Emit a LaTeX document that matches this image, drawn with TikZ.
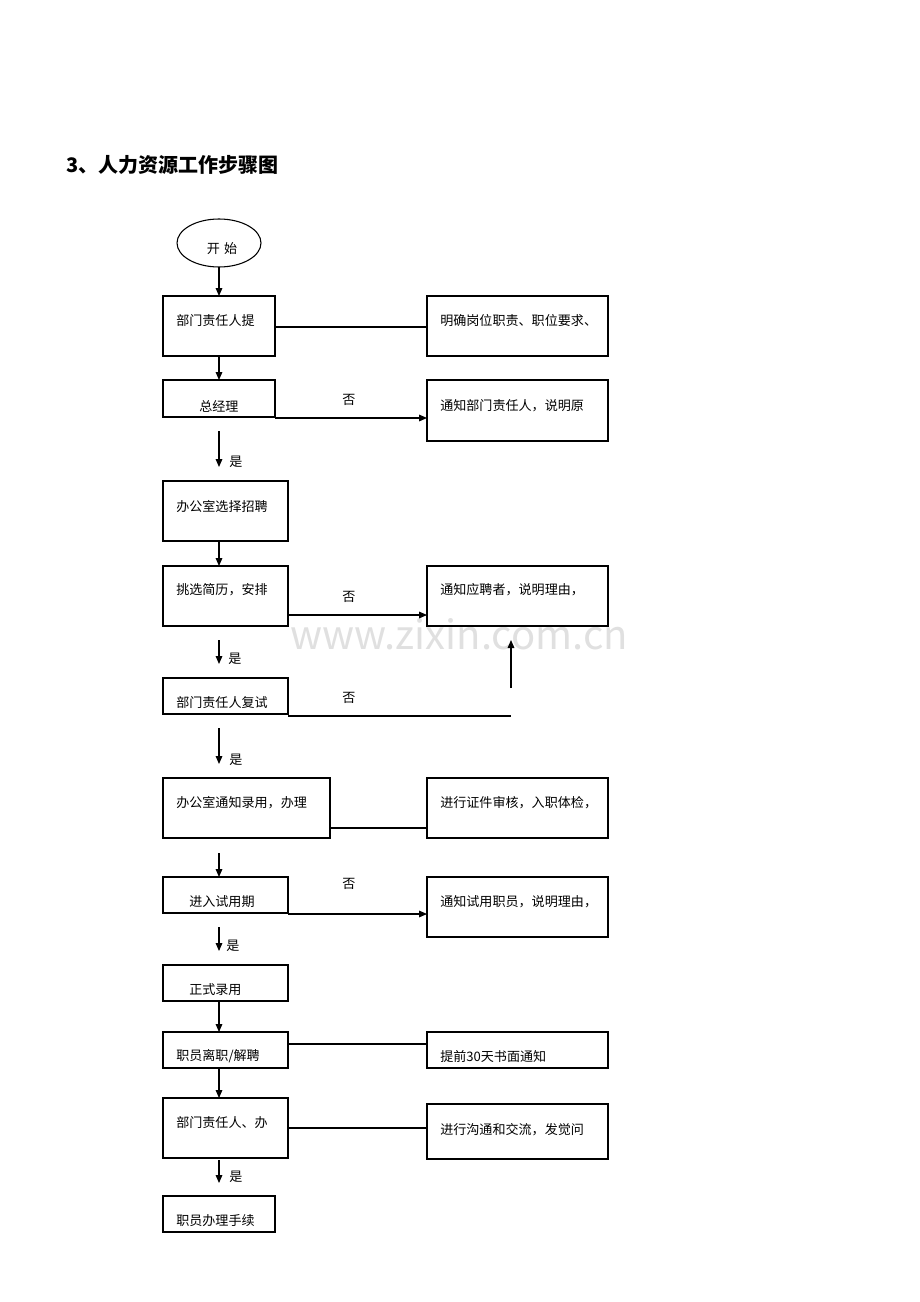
\documentclass[tikz,border=0pt]{standalone}
\usepackage{fontspec}
\setmainfont{Liberation Serif}
\newfontfamily\cjk{Noto Sans CJK SC}
\usetikzlibrary{arrows.meta}
\begin{document}
\begin{tikzpicture}[x=0.75pt,y=-0.75pt,
  bx/.style={draw,line width=0.8pt},
  tx/.style={anchor=west,font=\cjk\fontsize{9.8}{11}\selectfont,inner sep=0pt},
  lb/.style={font=\cjk\fontsize{9.8}{11}\selectfont,inner sep=0pt},
  ar/.style={line width=0.8pt,-{Triangle[length=6pt,width=5pt]}},
  ln/.style={line width=0.8pt}]
\useasboundingbox (0,0) rectangle (920,1302);
\node[font=\cjk\fontsize{30}{30}\selectfont,text=black!12,inner sep=0pt] (wm) at (459,634) {www.zixin.com.cn};
\node[anchor=west,inner sep=0pt,font=\cjk\bfseries\fontsize{15}{16}\selectfont] (title) at (66,165) {3、人力资源工作步骤图};
% left column
\draw[bx] (219,243) ellipse (42 and 24);
\node[lb] (s) at (222,249) {开\,\,始};
\coordinate (sb) at (219,267);
\draw[bx] (163,296) rectangle (275,356); \coordinate (b1t) at (219,296); \coordinate (b1b) at (219,356); \coordinate (b1r) at (275,327);
\node[tx] (t1) at (176,321) {部门责任人提};
\draw[bx] (163,380) rectangle (275,417); \coordinate (b2t) at (219,380); \coordinate (b2r) at (275,418);
\node[tx] (t2) at (199,406) {总经理};
\draw[bx] (163,481) rectangle (288,541); \coordinate (b4b) at (219,541);
\node[tx] (t4) at (176,506) {办公室选择招聘};
\draw[bx] (163,566) rectangle (288,626); \coordinate (b5t) at (219,566); \coordinate (b5r) at (288,615);
\node[tx] (t5) at (176,590) {挑选简历，安排};
\draw[bx] (163,678) rectangle (288,714); \coordinate (b6r) at (288,716);
\node[tx] (t6) at (176,703) {部门责任人复试};
\draw[bx] (163,778) rectangle (330,838); \coordinate (b7r) at (330,828);
\node[tx] (t7) at (176,803) {办公室通知录用，办理};
\draw[bx] (163,877) rectangle (288,913); \coordinate (b8t) at (219,877); \coordinate (b8r) at (288,914);
\node[tx] (t8) at (189,902) {进入试用期};
\draw[bx] (163,965) rectangle (288,1001); \coordinate (b9b) at (219,1001);
\node[tx] (t9) at (189,990) {正式录用};
\draw[bx] (163,1032) rectangle (288,1068); \coordinate (b10t) at (219,1032); \coordinate (b10b) at (219,1068); \coordinate (b10r) at (288,1044);
\node[tx] (t10) at (176,1056) {职员离职/解聘};
\draw[bx] (163,1098) rectangle (288,1158); \coordinate (b11t) at (219,1098); \coordinate (b11r) at (288,1128);
\node[tx] (t11) at (176,1123) {部门责任人、办};
\draw[bx] (163,1196) rectangle (275,1232);
\node[tx] (t12) at (176,1221) {职员办理手续};
% right column
\draw[bx] (427,296) rectangle (608,356); \coordinate (r1l) at (427,327);
\node[tx] (u1) at (440,321) {明确岗位职责、职位要求、};
\draw[bx] (427,380) rectangle (608,441); \coordinate (r2l) at (427,418);
\node[tx] (u2) at (440,406) {通知部门责任人，说明原};
\draw[bx] (427,566) rectangle (608,626); \coordinate (r3l) at (427,615); \coordinate (r3b) at (511,640);
\node[tx] (u3) at (440,590) {通知应聘者，说明理由，};
\draw[bx] (427,778) rectangle (608,838); \coordinate (r4l) at (427,828);
\node[tx] (u4) at (440,803) {进行证件审核，入职体检，};
\draw[bx] (427,877) rectangle (608,937); \coordinate (r5l) at (427,914);
\node[tx] (u5) at (440,902) {通知试用职员，说明理由，};
\draw[bx] (427,1032) rectangle (608,1068); \coordinate (r6l) at (427,1044);
\node[tx] (u6) at (440,1056) {提前30天书面通知};
\draw[bx] (427,1104) rectangle (608,1159); \coordinate (r7l) at (427,1128);
\node[tx] (u7) at (440,1130) {进行沟通和交流，发觉问};
% connectors
\draw[ar] (sb) -- (b1t);
\draw[ar] (b1b) -- (b2t);
\draw[ln] (b1r) -- (r1l);
\draw[ar] (b2r) -- (r2l); \node[lb] (n1) at (349,400) {否};
\coordinate (a1) at (219,431); \coordinate (a1e) at (219,467);
\draw[ar] (a1) -- (a1e); \node[lb] (y1) at (236,462) {是};
\draw[ar] (b4b) -- (b5t);
\draw[ar] (b5r) -- (r3l); \node[lb] (n2) at (349,597) {否};
\coordinate (a2) at (219,640); \coordinate (a2e) at (219,664);
\draw[ar] (a2) -- (a2e); \node[lb] (y2) at (235,659) {是};
\coordinate (h6) at (511,716); \coordinate (v6) at (511,688);
\draw[ln] (b6r) -- (h6); \draw[ar] (v6) -- (r3b); \node[lb] (n3) at (349,698) {否};
\coordinate (a3) at (219,728); \coordinate (a3e) at (219,764);
\draw[ar] (a3) -- (a3e); \node[lb] (y3) at (236,760) {是};
\draw[ln] (b7r) -- (r4l);
\coordinate (a4) at (219,853);
\draw[ar] (a4) -- (b8t);
\draw[ar] (b8r) -- (r5l); \node[lb] (n4) at (349,884) {否};
\coordinate (a5) at (219,927); \coordinate (a5e) at (219,951);
\draw[ar] (a5) -- (a5e); \node[lb] (y5) at (233,946) {是};
\draw[ar] (b9b) -- (b10t);
\draw[ln] (b10r) -- (r6l);
\draw[ar] (b10b) -- (b11t);
\draw[ln] (b11r) -- (r7l);
\coordinate (a6) at (219,1160); \coordinate (a6e) at (219,1183);
\draw[ar] (a6) -- (a6e); \node[lb] (y6) at (236,1177) {是};
\end{tikzpicture}
\end{document}
